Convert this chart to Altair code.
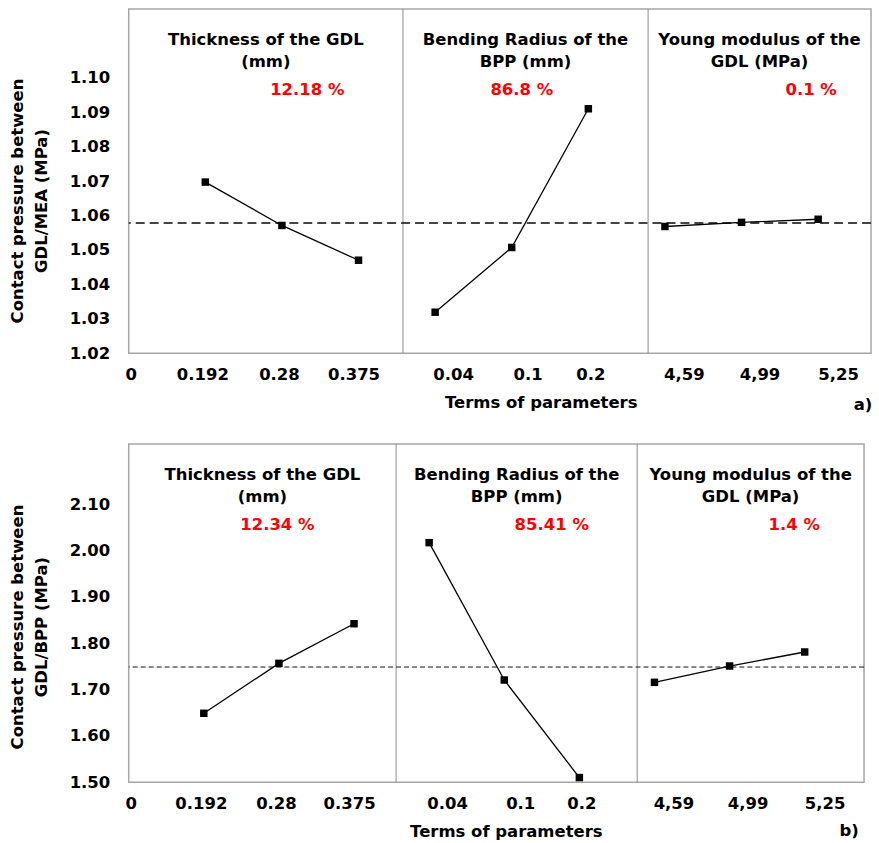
import altair as alt
import pandas as pd

# ---------------- data ----------------
section_titles = ["Thickness of the GDL\n(mm)", "Bending Radius of the\nBPP (mm)", "Young modulus of the\nGDL (MPa)"]
level_labels = ["0", "0.192", "0.28", "0.375", "0.04", "0.1", "0.2", "4,59", "4,99", "5,25"]
section_of_point = [0, 0, 0, 1, 1, 1, 2, 2, 2]

mea_values = [1.0697, 1.0571, 1.0470, 1.0319, 1.0507, 1.0910, 1.0568, 1.0580, 1.0589]
mea_mean = 1.0578
mea_pct = ["12.18 %", "86.8 %", "0.1 %"]

bpp_values = [1.6487, 1.7565, 1.8420, 2.0170, 1.7205, 1.5100, 1.7155, 1.7507, 1.7810]
bpp_mean = 1.7485
bpp_pct = ["12.34 %", "85.41 %", "1.4 %"]

mea_ticks = [1.02, 1.03, 1.04, 1.05, 1.06, 1.07, 1.08, 1.09, 1.10]
bpp_ticks = [1.50, 1.60, 1.70, 1.80, 1.90, 2.00, 2.10]

# ---------------- layout ----------------
FONT = "DejaVu Sans"
FS = 16.5
label_offsets = [2, -3, -3, -5, 18, 16, 2, 19, 18, 20]


def panel(values, mean, pct, ticks, ydomain, xmax, dividers, pct_px, W, H,
          ytitle, ytitle_y, xtitle_x, tag, tag_xy, dash, dash_w, dash_color):
    n = len(values)
    df = pd.DataFrame({
        "idx": list(range(1, n + 1)),
        "val": values,
        "sec": section_of_point,
    })
    xs = alt.X("idx:Q", scale=alt.Scale(domain=[0, xmax], nice=False, zero=False),
               axis=alt.Axis(values=list(range(len(level_labels))),
                             labelExpr="[" + ",".join("'%s'" % s for s in level_labels) + "][datum.value]",
                             labelOffset={"expr": "[" + ",".join(str(o) for o in label_offsets) + "][datum.value]"},
                             labelFontSize=FS, labelFontWeight="bold", labelFont=FONT, labelColor="black",
                             labelPadding=13, labelOverlap=False, labelFlush=False,
                             domain=False, ticks=False, grid=False,
                             title="Terms of parameters", titleFontSize=FS, titleFont=FONT,
                             titleFontWeight="bold", titleColor="black",
                             titleX=xtitle_x, titleY=49, titleBaseline="middle", titleAnchor="middle", titleAlign="center"),
               title="Terms of parameters")
    ys = alt.Y("val:Q", scale=alt.Scale(domain=ydomain, nice=False, zero=False),
               axis=alt.Axis(values=ticks, format=".2f",
                             labelFontSize=FS, labelFontWeight="bold", labelFont=FONT, labelColor="black",
                             labelPadding=19, domain=False, ticks=False, grid=False,
                             title=ytitle, titleFontSize=FS, titleFont=FONT, titleFontWeight="bold",
                             titleColor="black", titlePadding=20, titleLineHeight=24, titleY=ytitle_y))

    base = alt.Chart(df)
    line = base.mark_line(color="black", strokeWidth=1.3).encode(x=xs, y=ys, detail="sec:N")
    pts = base.mark_point(shape="square", filled=True, color="black", size=56, opacity=1).encode(x="idx:Q", y="val:Q")

    mean_rule = alt.Chart(pd.DataFrame({"m": [mean]})).mark_rule(
        color=dash_color, strokeDash=dash, strokeWidth=dash_w).encode(y="m:Q")

    div_rule = alt.Chart(pd.DataFrame({"d": dividers})).mark_rule(
        color="#8c8c8c", strokeWidth=1).encode(x="d:Q")

    bounds = [0] + dividers + [xmax]
    centers = [(bounds[i] + bounds[i + 1]) / 2 for i in range(3)]
    tdf = pd.DataFrame({"c": centers, "t": section_titles})
    titles = alt.Chart(tdf).mark_text(
        font=FONT, fontSize=FS, fontWeight="bold", color="black", baseline="alphabetic",
        align="center", lineBreak="\n", lineHeight=22).encode(
        x="c:Q", y=alt.value(36), text="t:N")

    pdf = pd.DataFrame({"px": pct_px, "t": pct})
    pcts = alt.Chart(pdf).mark_text(
        font=FONT, fontSize=FS, fontWeight="bold", color="#ff0000", baseline="alphabetic",
        align="center").encode(x=alt.X("px:Q", scale=None), y=alt.value(86), text="t:N")

    tagt = alt.Chart(pd.DataFrame({"t": [tag]})).mark_text(
        font=FONT, fontSize=FS, fontWeight="bold", color="black", baseline="middle",
        align="center").encode(x=alt.value(tag_xy[0]), y=alt.value(tag_xy[1]), text="t:N")

    return alt.layer(div_rule, mean_rule, line, pts, titles, pcts, tagt).properties(width=W, height=H)


top = panel(mea_values, mea_mean, mea_pct, mea_ticks, [1.02, 1.12], 9.69, [3.58, 6.78],
            [179, 394, 684], 744, 345,
            ["Contact pressure between", "GDL/MEA (MPa)"], 192, 413, "a)", (736, 397),
            [9, 5], 2, "#444444")
bottom = panel(bpp_values, bpp_mean, bpp_pct, bpp_ticks, [1.50, 2.23], 9.79, [3.56, 6.77],
               [149, 424, 667], 737, 339,
               ["Contact pressure between", "GDL/BPP (MPa)"], 183, 378, "b)", (722, 388),
               [5, 3], 1, "#111111")

chart = alt.vconcat(top, bottom, spacing=91, bounds="flush").properties(
    padding={"left": 8, "top": 6, "right": 5, "bottom": 5}
).configure(font=FONT).configure_view(stroke="#a6a6a6", strokeWidth=1.5)

chart.save("out.html", embed_options={"renderer": "svg", "actions": False})
